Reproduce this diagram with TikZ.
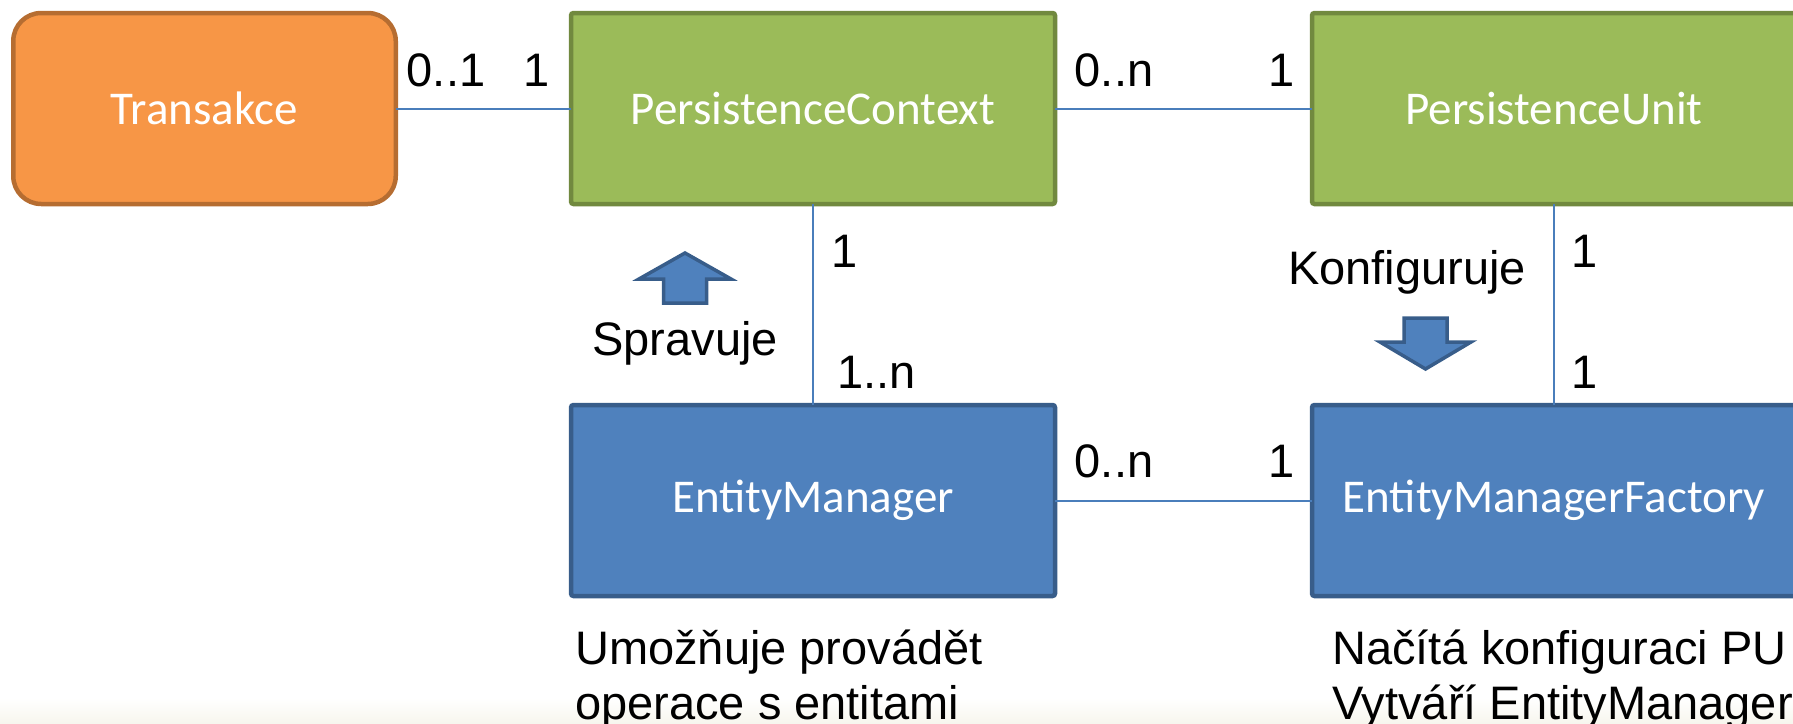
\documentclass[tikz,border=0pt]{standalone}
\usepackage{fontspec}
\setmainfont{Liberation Sans}
\newfontfamily\boxfont{Carlito}
\usepackage{xcolor}
\usepackage{tikz}

\definecolor{orangefill}{HTML}{F79646}
\definecolor{orangeline}{HTML}{B66D31}
\definecolor{greenfill}{HTML}{9BBB59}
\definecolor{greenline}{HTML}{71893F}
\definecolor{bluefill}{HTML}{4F81BD}
\definecolor{blueline}{HTML}{385D8A}
\definecolor{connline}{HTML}{4A7EBB}
\definecolor{bgfade}{HTML}{F7F6EE}

\tikzset{
  umlbox/.style={draw, line width=4.5pt, minimum width=484pt, minimum height=191pt,
    inner sep=0pt, outer sep=0pt, rounded corners=2.5pt, text=white,
    font=\boxfont\fontsize{47}{56}\selectfont},
  orangebox/.style={umlbox, fill=orangefill, draw=orangeline},
  greenbox/.style={umlbox, fill=greenfill, draw=greenline},
  bluebox/.style={umlbox, fill=bluefill, draw=blueline},
  conn/.style={draw=connline, line width=2pt},
  mult/.style={inner sep=0pt, anchor=base, font=\fontsize{47}{51}\selectfont},
  note/.style={inner sep=0pt, align=left, anchor=north west, font=\fontsize{47}{55}\selectfont},
  blockarrow/.style={fill=bluefill, draw=blueline, line width=3.5pt, line join=miter}
}

\begin{document}
\begin{tikzpicture}[x=1pt,y=-1pt]
        \useasboundingbox (0,0) rectangle (1793,723);
        \clip (0,0) rectangle (1793,723);
        % pozadi
        \shade[top color=white, bottom color=bgfade] (0,698) rectangle (1793,723);
        % tridy
        \node[orangebox, minimum width=382.5pt, rounded corners=28pt] (trans) at (204.5,108.5) {Transakce};
        \node[greenbox] (pctx) at (813,108.5) {PersistenceContext};
        \node[greenbox] (punit) at (1554,108.5) {PersistenceUnit};
        \node[bluebox] (emgr) at (813,500.5) {EntityManager};
        \node[bluebox] (emf) at (1554,500.5) {EntityManagerFactory};
        % spojnice
        \draw[conn] (trans) -- (pctx);
        \draw[conn] (pctx) -- (punit);
        \draw[conn] (pctx) -- (emgr);
        \draw[conn] (punit) -- (emf);
        \draw[conn] (emgr) -- (emf);
        % nasobnosti
        \foreach \n/\x/\y/\t in {m1/446/86/0..1, m2/537/86/1, m3/1114/86/0..n, m4/1282/86/1,
                                m5/845/267/1, m6/1585/267/1, m7/1585/388/1,
                                m8/1114/477/0..n, m9/1282/477/1}
                \node[mult] (\n) at (\x,\y) {\t};
        \node[mult, anchor=base west] (m10) at (837,388) {1..n};
        % sipky
        \filldraw[blockarrow] (663.5,303) -- (663.5,279) -- (639,279) -- (685,253)
                -- (731,279) -- (706.5,279) -- (706.5,303) -- cycle;
        \filldraw[blockarrow] (1404,318) -- (1447,318) -- (1447,342) -- (1471,342)
                -- (1425.5,369) -- (1380,342) -- (1404,342) -- cycle;
        \node[mult] (spravuje) at (685,355) {Spravuje};
        \node[mult] (konfig) at (1407,284) {Konfiguruje};
        % popisky
        \node[note] (emnote) at (575,630) {Umožňuje provádět\\operace s entitami};
        \node[note] (emfnote) at (1332,630) {Načítá konfiguraci PU\\Vytváří EntityManager};
\end{tikzpicture}
\end{document}
